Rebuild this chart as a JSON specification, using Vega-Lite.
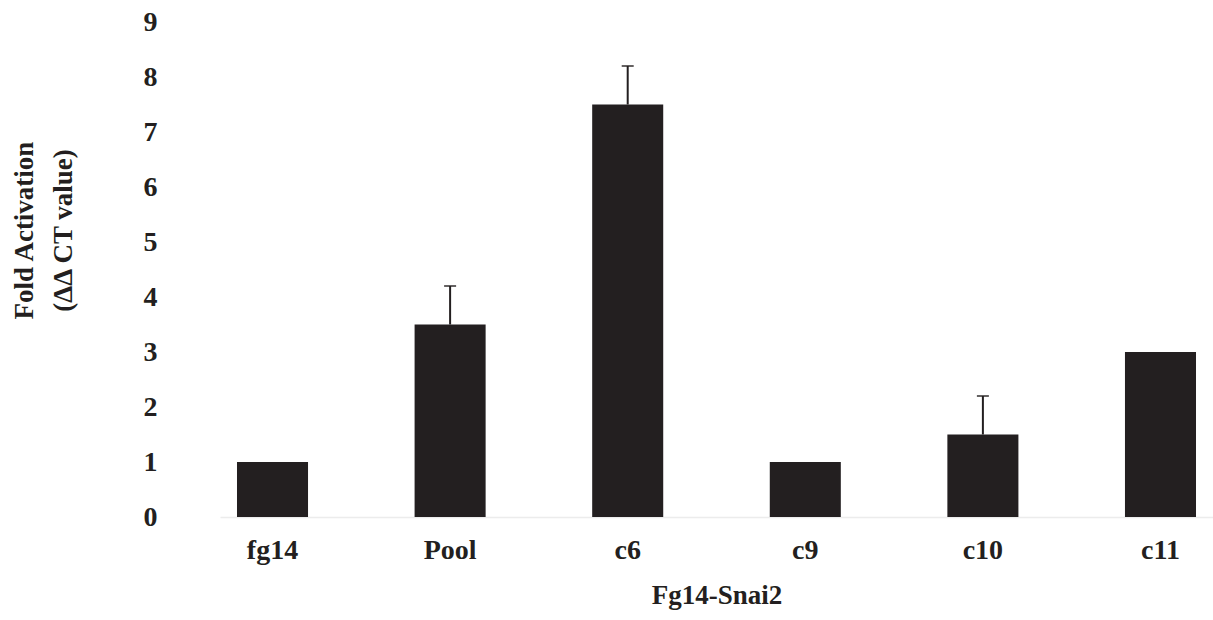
{
  "$schema": "https://vega.github.io/schema/vega-lite/v6.json",
  "width": 993,
  "height": 495,
  "autosize": {"type": "none"},
  "padding": {"left": 220, "top": 22, "right": 0, "bottom": 103},
  "background": "white",
  "config": {
    "view": {"stroke": null},
    "font": "Liberation Serif",
    "axis": {"labelFont": "Liberation Serif", "titleFont": "Liberation Serif", "labelFontWeight": "bold", "titleFontWeight": "bold", "labelColor": "#231f20", "titleColor": "#231f20", "grid": false, "ticks": false}
  },
  "data": {
    "values": [
      {"group": "fg14", "value": 1.0, "upper": null},
      {"group": "Pool", "value": 3.5, "upper": 4.2},
      {"group": "c6", "value": 7.5, "upper": 8.2},
      {"group": "c9", "value": 1.0, "upper": null},
      {"group": "c10", "value": 1.5, "upper": 2.2},
      {"group": "c11", "value": 3.0, "upper": null}
    ]
  },
  "encoding": {
    "x": {
      "field": "group",
      "type": "nominal",
      "sort": ["fg14", "Pool", "c6", "c9", "c10", "c11"],
      "scale": {"domain": ["fg14", "Pool", "c6", "c9", "c10", "c11"], "paddingInner": 0.6, "paddingOuter": 0.0957},
      "axis": {"title": "Fg14-Snai2", "labelAngle": 0, "labelFontSize": 28, "titleFontSize": 27, "labelPadding": 19, "titlePadding": 18, "domainColor": "#ececec", "domainWidth": 1.5}
    }
  },
  "layer": [
    {
      "mark": {"type": "rule", "color": "#231f20", "strokeWidth": 2},
      "transform": [{"filter": "datum.upper != null"}],
      "encoding": {
        "y": {"field": "value", "type": "quantitative"},
        "y2": {"field": "upper"}
      }
    },
    {
      "mark": {"type": "tick", "color": "#231f20", "thickness": 2, "size": 12},
      "transform": [{"filter": "datum.upper != null"}],
      "encoding": {
        "y": {"field": "upper", "type": "quantitative"}
      }
    },
    {
      "mark": {"type": "bar", "color": "#231f20"},
      "encoding": {
        "y": {
          "field": "value",
          "type": "quantitative",
          "scale": {"domain": [0, 9], "nice": false},
          "axis": {
            "title": ["Fold Activation", "(ΔΔ CT value)"],
            "values": [0, 1, 2, 3, 4, 5, 6, 7, 8, 9],
            "format": "d",
            "domain": false,
            "labelFontSize": 28,
            "labelPadding": 63,
            "titleFontSize": 27,
            "titleLineHeight": 39,
            "titleAngle": -90,
            "titleX": -196,
            "titleY": 208,
            "titleAlign": "center",
            "titleBaseline": "middle"
          }
        }
      }
    }
  ]
}
